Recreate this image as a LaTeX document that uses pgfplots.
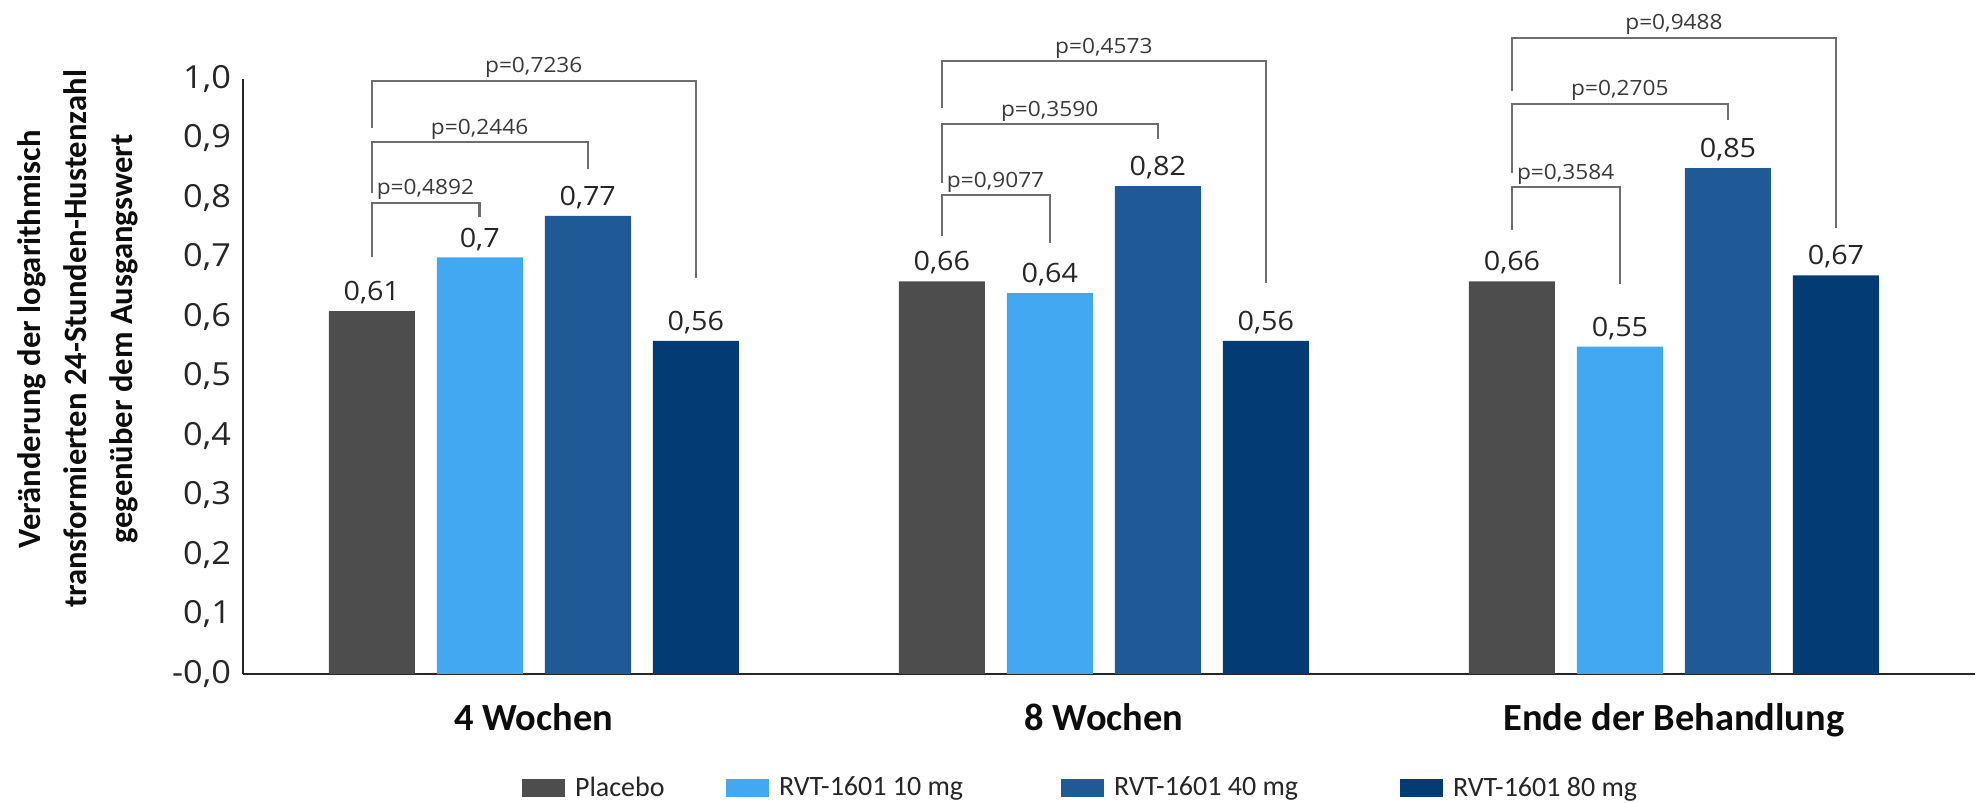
\documentclass[border=0pt]{standalone}
\usepackage{pgfplots}
\pgfplotsset{compat=1.18}
\usepackage{fontspec}
\setmainfont{Carlito}
\newfontfamily\dvc{Open Sans}[FakeStretch=1.08]
\definecolor{cPla}{HTML}{4D4D4D}
\definecolor{cTen}{HTML}{42A8F2}
\definecolor{cFor}{HTML}{1F5A97}
\definecolor{cEig}{HTML}{033B74}
\definecolor{brk}{HTML}{6E6E6E}
\definecolor{txt}{HTML}{262626}
\definecolor{ptxt}{HTML}{3A3A3A}
\begin{document}
\begin{tikzpicture}
\begin{axis}[name=ax,
  scale only axis, width=866pt, height=297.5pt,
  xmin=-0.51, xmax=2.528, ymin=0, ymax=1,
  ybar=11pt, bar width=43pt,
  clip=false,
  axis x line=bottom, axis y line=left,
  axis line style={-, line width=1.2pt, color=black!85},
  xtick={0,1,2},
  xticklabels={4 Wochen, 8 Wochen, Ende der Behandlung},
  xticklabel style={font=\fontsize{19.2}{23}\selectfont\bfseries, anchor=base, yshift=-28pt, text=black!95},
  ytick={0,0.1,0.2,0.3,0.4,0.5,0.6,0.7,0.8,0.9,1},
  yticklabels={{-0,0},{0,1},{0,2},{0,3},{0,4},{0,5},{0,6},{0,7},{0,8},{0,9},{1,0}},
  yticklabel style={font=\dvc\fontsize{15.9}{19}\selectfont, text=txt, xshift=-2.5pt},
  major tick length=0pt,
  nodes near coords,
  /pgf/number format/use comma,
  /pgf/number format/assume math mode=true,
  every node near coord/.append style={font=\dvc\fontsize{13.3}{16}\selectfont, text=txt},
  legend columns=4,
  legend style={at={(rel axis cs:0.1611,-0.1916)}, anchor=west, draw=none, fill=none,
    inner sep=0pt, outer sep=0pt, font=\fontsize{14}{17}\selectfont, text=txt,
    /tikz/every even column/.append style={column sep=0pt},
    /tikz/every odd column/.append style={column sep=0pt},
    nodes={inner sep=0pt}},
  every axis plot post/.append style={legend image code/.code={\fill[##1] (0pt,-4.5pt) rectangle (21.5pt,4.5pt);}},
]
\addplot[fill=cPla, draw=none] coordinates {(0,0.61) (1,0.66) (2,0.66)};
\addlegendentry{\makebox[80.5pt][l]{\hspace{5pt}Placebo}}
\addplot[fill=cTen, draw=none] coordinates {(0,0.70) (1,0.64) (2,0.55)};
\addlegendentry{\makebox[146pt][l]{\hspace{5pt}RVT-1601 10 mg}}
\addplot[fill=cFor, draw=none] coordinates {(0,0.77) (1,0.82) (2,0.85)};
\addlegendentry{\makebox[148pt][l]{\hspace{5pt}RVT-1601 40 mg}}
\addplot[fill=cEig, draw=none] coordinates {(0,0.56) (1,0.56) (2,0.67)};
\addlegendentry{\hspace{5pt}RVT-1601 80 mg}

% brackets group 1
\draw[brk, line width=1.1pt] (axis cs:-0.284,0.918) |- (axis cs:0.284,0.997) -- (axis cs:0.284,0.666);
\draw[brk, line width=1.1pt] (axis cs:-0.284,0.808) |- (axis cs:0.095,0.894) -- (axis cs:0.095,0.849);
\draw[brk, line width=1.1pt] (axis cs:-0.284,0.700) |- (axis cs:-0.095,0.792) -- (axis cs:-0.095,0.768);
% brackets group 2
\draw[brk, line width=1.1pt] (axis cs:0.716,0.951) |- (axis cs:1.284,1.030) -- (axis cs:1.284,0.657);
\draw[brk, line width=1.1pt] (axis cs:0.716,0.825) |- (axis cs:1.095,0.924) -- (axis cs:1.095,0.899);
\draw[brk, line width=1.1pt] (axis cs:0.716,0.736) |- (axis cs:0.905,0.805) -- (axis cs:0.905,0.724);
% brackets group 3
\draw[brk, line width=1.1pt] (axis cs:1.716,0.980) |- (axis cs:2.284,1.069) -- (axis cs:2.284,0.750);
\draw[brk, line width=1.1pt] (axis cs:1.716,0.842) |- (axis cs:2.095,0.958) -- (axis cs:2.095,0.931);
\draw[brk, line width=1.1pt] (axis cs:1.716,0.746) |- (axis cs:1.905,0.818) -- (axis cs:1.905,0.655);

\tikzset{pv/.style={font=\dvc\fontsize{10.5}{13}\selectfont, text=ptxt, anchor=base, yshift=4pt, inner sep=0pt}}
\node[pv] at (axis cs:0,0.997) {p=0,7236};
\node[pv] at (axis cs:-0.095,0.894) {p=0,2446};
\node[pv] at (axis cs:-0.19,0.792) {p=0,4892};
\node[pv] at (axis cs:1,1.030) {p=0,4573};
\node[pv] at (axis cs:0.905,0.924) {p=0,3590};
\node[pv] at (axis cs:0.81,0.805) {p=0,9077};
\node[pv] at (axis cs:2,1.069) {p=0,9488};
\node[pv] at (axis cs:1.905,0.958) {p=0,2705};
\node[pv] at (axis cs:1.81,0.818) {p=0,3584};

\node[rotate=90, align=center, font=\fontsize{16.3}{23}\selectfont\bfseries, text=black!95]
  at ([xshift=-82.5pt]rel axis cs:0,0.563)
  {Veränderung der logarithmisch\\transformierten 24-Stunden-Hustenzahl\\gegenüber dem Ausgangswert};
\end{axis}
\path ([xshift=-121.5pt,yshift=-64.5pt]ax.south west) rectangle ([xshift=869pt,yshift=337pt]ax.south west);
\end{tikzpicture}
\end{document}
